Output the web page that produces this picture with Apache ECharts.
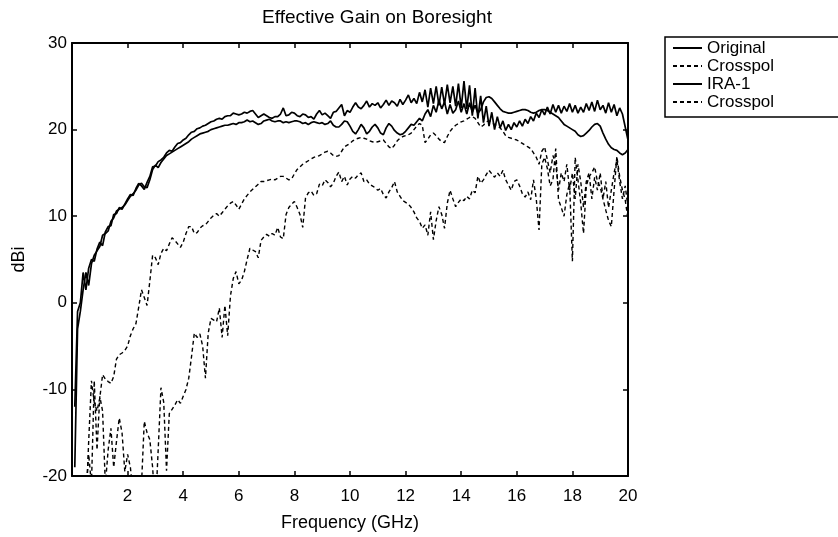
<!DOCTYPE html>
<html><head><meta charset="utf-8">
<script src="https://cdn.jsdelivr.net/npm/echarts@6/dist/echarts.min.js"></script>
<style>html,body{margin:0;padding:0;background:#fff}#c{width:838px;height:537px}</style>
</head><body><div id="c"></div>
<script>
// Frequency sampling grid (GHz): 0.1 .. 20.0 in 0.1 steps
const freq = Array.from({length: 200}, (_, i) => Math.round((i + 1)) / 10);

const xTicks = [2, 4, 6, 8, 10, 12, 14, 16, 18, 20];
const yTicks = [-20, -10, 0, 10, 20, 30];

// Original (solid)
const original = [
 -19, -3, -1, 1.5, 3.5, 2.0, 4.5, 5.5, 6.0, 6.5,
 7.8, 8.0, 8.3, 9.4, 9.8, 10.6, 10.8, 11.0, 11.3, 11.8,
 12.3, 12.6, 13.0, 13.6, 13.8, 13.4, 13.3, 14.2, 15.4, 15.9,
 15.6, 16.2, 16.6, 17.0, 17.2, 17.4, 17.6, 17.8, 18.0, 18.2,
 18.4, 18.6, 18.9, 19.1, 19.3, 19.5, 19.6, 19.7, 19.8, 20.0,
 20.1, 20.2, 20.3, 20.4, 20.5, 20.5, 20.6, 20.7, 20.6, 20.8,
 20.8, 20.9, 21.1, 20.9, 21.0, 20.8, 20.6, 20.7, 21.0, 21.1,
 21.2, 21.0, 20.9, 21.0, 21.0, 20.8, 20.9, 20.8, 20.9, 21.0,
 21.0, 20.9, 20.7, 20.8, 20.6, 20.8, 20.9, 20.8, 20.7, 20.8,
 20.6, 20.7, 21.0, 20.5, 20.3, 20.3, 20.6, 21.0, 20.9, 20.4,
 19.8, 19.5, 20.0, 20.6, 20.2, 19.5, 19.8, 20.3, 20.6, 20.2,
 19.6, 19.4, 20.2, 20.7, 20.4, 19.9, 19.6, 19.4, 19.5, 19.8,
 20.2, 20.6, 20.5, 20.9, 21.3, 21.0, 21.8, 22.3, 21.5, 22.8,
 22.0, 23.4, 22.4, 23.2, 21.8, 22.9, 21.9, 22.3, 23.3, 22.0,
 23.0, 21.8, 23.1, 22.0, 22.8, 21.9, 22.3, 23.2, 23.7, 23.8,
 23.6, 23.2, 22.8, 22.4, 22.1, 22.0, 21.9, 21.9, 22.0, 22.1,
 22.2, 22.3, 22.3, 22.2, 22.0, 21.9, 22.0, 22.2, 22.3, 22.3,
 22.2, 22.0, 21.8, 21.6, 21.4, 21.0, 20.6, 20.4, 20.2, 20.0,
 19.8, 19.4, 19.2, 19.3, 19.6, 19.9, 20.3, 20.6, 20.7, 20.4,
 19.6, 18.9, 18.3, 17.9, 17.7, 17.6, 17.3, 17.1, 17.3, 17.7
];

// Crosspol of Original (dashed, upper)
const crosspolOriginal = [
 -30, -30, -30, -30, -24, -16, -9, -11.5, -12.5, -11,
 -8.3, -8.8, -9.1, -9.3, -8.5, -6.5, -6.0, -5.8, -5.5, -5.0,
 -3.8, -3.0, -2.4, -0.5, 1.5, 0.6, -0.3, 2.5, 5.5, 5.2,
 4.4, 5.7, 6.3, 6.0, 6.8, 7.5, 7.2, 6.8, 6.4, 7.0,
 8.0, 8.8, 8.8, 8.0, 8.1, 8.6, 8.9, 9.0, 9.4, 9.8,
 10.1, 10.3, 10.0, 10.4, 10.8, 11.2, 11.5, 11.7, 11.3, 10.8,
 11.4, 12.0, 12.4, 12.8, 13.1, 13.4, 13.7, 14.0, 14.0, 14.1,
 14.2, 14.3, 14.2, 14.4, 14.6, 14.6, 14.4, 14.2, 14.3, 14.9,
 15.4, 15.7, 16.0, 16.2, 16.4, 16.6, 16.8, 16.9, 17.0, 17.2,
 17.4, 17.5, 17.3, 17.0, 16.9, 17.0, 17.5, 18.0, 18.2, 18.4,
 18.7, 18.9, 19.0, 19.1, 19.0, 18.9, 18.7, 18.6, 18.5, 18.6,
 18.7, 18.8, 18.4, 18.0, 17.8, 18.2, 18.7, 19.0, 19.2, 19.3,
 19.4, 19.6, 20.0, 20.4, 20.7, 20.5, 18.5, 18.9, 19.4, 19.6,
 19.3, 18.9, 18.6, 18.5, 19.2, 19.8, 20.2, 20.5, 20.7, 20.9,
 21.0, 21.2, 21.4, 21.5, 21.3, 20.8, 20.3, 20.5, 20.9, 21.0,
 20.8, 20.6, 20.4, 20.2, 19.8, 19.3, 19.1, 19.0, 18.9, 18.8,
 18.6, 18.4, 18.2, 18.0, 17.8, 17.3, 16.8, 16.0, 17.5, 18.0,
 16.5, 15.0, 17.0, 16.0, 13.0, 15.0, 14.0, 16.0, 13.0, 15.0,
 12.0, 16.0, 14.0, 11.0, 14.0, 15.0, 12.0, 14.5, 13.0, 15.0,
 12.0, 14.0, 11.0, 13.0, 15.0, 16.5, 14.0, 12.0, 13.5, 11.0
];

// IRA-1 (solid)
const ira1 = [
 -12, -1, 0, 3.5, 1.5, 4.0, 5.0, 4.8, 6.2, 7.0,
 6.6, 8.2, 8.8, 8.9, 10.2, 10.3, 11.0, 10.8, 11.4, 12.0,
 12.5, 12.4, 13.2, 13.8, 13.5, 13.1, 13.9, 14.6, 15.7, 15.8,
 16.3, 16.5, 16.8, 17.3, 17.6, 17.5, 18.0, 18.4, 18.5, 18.8,
 19.0, 19.4, 19.7, 19.8, 20.1, 20.2, 20.4, 20.5, 20.7, 20.9,
 21.0, 21.2, 21.3, 21.2, 21.5, 21.6, 21.6, 21.9, 21.8, 21.7,
 21.8, 22.0, 21.9, 22.1, 22.2, 21.8, 21.4, 21.6, 21.8, 21.6,
 21.4, 21.3, 21.5, 21.5, 21.8, 22.5, 21.6, 21.7, 22.0, 21.9,
 21.6, 21.5, 21.8, 21.7, 21.4, 21.5, 21.2, 21.8, 22.2, 21.7,
 21.9, 21.6, 21.3, 22.0, 22.1, 22.5, 22.9, 21.6, 22.2, 22.0,
 22.6, 23.1, 22.6, 22.4, 22.8, 23.3, 22.6, 23.0, 22.8, 23.1,
 22.5, 22.9, 23.4, 22.8, 23.3, 23.1, 22.7, 23.5, 22.9, 23.4,
 24.0, 23.1, 23.6, 23.0, 24.3, 23.2, 24.6, 22.6, 24.8, 23.0,
 25.0, 22.8, 24.9, 22.9, 25.2, 23.1, 25.0, 22.7, 25.3, 22.5,
 25.6, 22.4, 25.1, 21.6, 24.8, 21.3, 23.9, 20.8, 22.7, 20.4,
 22.0, 20.0, 21.5, 20.2, 21.0, 19.9, 20.6, 20.0, 20.8, 20.3,
 21.0, 20.4, 21.2, 20.7, 21.5, 21.0, 21.9, 21.4, 22.3, 21.7,
 22.6, 21.8, 22.9, 22.0, 22.8, 21.9, 22.7, 22.1, 23.0, 22.0,
 22.8, 21.9, 22.6, 22.0, 23.0, 22.2, 23.2, 22.1, 23.4, 22.3,
 22.8, 21.9, 23.1, 22.0, 22.9, 21.6, 22.5, 21.8, 20.3, 18.8
];

// Crosspol of IRA-1 (dashed, lower)
const crosspolIra1 = [
 -30, -30, -30, -30, -22, -17.5, -21, -9, -17, -10.8,
 -12.5, -21, -17, -14.5, -19, -16, -13.3, -15, -19.5, -17.5,
 -19, -22, -25, -25, -21, -13.7, -15, -15.8, -19, -24,
 -17, -9.8, -11.5, -19.4, -12.8, -12.3, -11.8, -11.2, -11.6, -10.8,
 -10, -8.7, -6.2, -3.5, -4, -3.6, -5, -8.7, -3.5, -1.8,
 -2, -2.2, -0.6, -4, -0.3, -3.8, 0.8, 2.8, 3.6, 2.2,
 2.6, 3.6, 5.0, 6.3, 6.1, 5.9, 5.2, 7.2, 7.6, 7.9,
 7.7, 8.0, 7.8, 8.7, 7.6, 7.4, 10.2, 11.0, 11.4, 11.7,
 11.0, 10.2, 8.7, 12.1, 12.7, 12.9, 12.4, 12.6, 13.7, 13.5,
 14.2, 13.9, 13.4, 13.8, 14.6, 15.1, 14.0, 14.6, 13.6, 14.3,
 14.6, 14.4, 14.8, 15.0, 14.0, 14.2, 13.7, 13.5, 13.3, 13.0,
 13.2, 12.5, 12.1, 12.8, 13.3, 14.0, 12.8, 12.3, 11.8, 11.6,
 11.4, 11.0, 10.5, 9.8, 9.4, 8.6, 9.0, 7.8, 10.5, 7.3,
 9.5, 11.1, 10.2, 8.6, 11.5, 13.0, 12.0, 11.1, 11.6, 12.0,
 11.8, 12.3, 12.0, 13.0, 12.7, 14.6, 13.8, 14.2, 14.8, 15.3,
 14.9, 14.5, 15.0, 14.6, 15.3, 14.2, 13.6, 13.0, 14.0, 14.2,
 13.5, 12.6, 12.2, 12.8, 11.9, 14.2, 12.0, 8.4, 16.0, 16.8,
 15.5, 13.5, 14.2, 17.8, 11.9, 11.0, 10.0, 12.5, 13.8, 4.8,
 16.8, 14.2, 11.5, 8.0, 13.5, 14.6, 15.0, 15.7, 14.0, 13.4,
 12.0, 10.7, 9.5, 8.8, 13.0, 16.9, 14.6, 13.0, 11.9, 9.6
];

const FONT = '"Liberation Sans", Arial, Helvetica, sans-serif';
const pairs = arr => freq.map((f, i) => [f, arr[i]]);

const chart = echarts.init(document.getElementById('c'), null, {renderer: 'canvas'});

const gridL = 72, gridR = 210, gridT = 43, gridB = 60;

function xAxisDef(pos, showLabel) {
  return {
    type: 'value', position: pos, min: 0, max: 20, interval: 2,
    axisLine: {show: true, onZero: false, lineStyle: {color: '#000', width: 2}},
    axisTick: {show: true, inside: true, length: 5, lineStyle: {color: '#000', width: 1.5}},
    axisLabel: {show: showLabel, color: '#000', fontFamily: FONT, fontSize: 17, margin: 12,
      formatter: v => (xTicks.indexOf(v) >= 0 ? String(v) : '')},
    splitLine: {show: false}
  };
}
function yAxisDef(pos, showLabel) {
  return {
    type: 'value', position: pos, min: -20, max: 30, interval: 10,
    axisLine: {show: true, onZero: false, lineStyle: {color: '#000', width: 2}},
    axisTick: {show: true, inside: true, length: 5, lineStyle: {color: '#000', width: 1.5}},
    axisLabel: {show: showLabel, color: '#000', fontFamily: FONT, fontSize: 17, margin: 5,
      formatter: v => (yTicks.indexOf(v) >= 0 ? String(v) : '')},
    splitLine: {show: false}
  };
}

const xb = xAxisDef('bottom', true);
xb.name = 'Frequency (GHz)';
xb.nameLocation = 'middle';
xb.nameGap = 38;
xb.nameTextStyle = {color: '#000', fontFamily: FONT, fontSize: 18};
const yl = yAxisDef('left', true);
yl.name = 'dBi';
yl.nameLocation = 'middle';
yl.nameGap = 44;
yl.nameRotate = 90;
yl.nameTextStyle = {color: '#000', fontFamily: FONT, fontSize: 18};

function lineSeries(name, arr, dashed) {
  return {
    name: name, type: 'line', data: pairs(arr), xAxisIndex: 0, yAxisIndex: 0,
    symbol: 'none', showSymbol: false, clip: true, smooth: false,
    lineStyle: {color: '#000', width: dashed ? 1.4 : 1.7, type: dashed ? [4, 3] : 'solid'},
    itemStyle: {color: '#000'},
    emphasis: {disabled: true}
  };
}

chart.setOption({
  animation: false,
  backgroundColor: '#fff',
  grid: {left: gridL, right: gridR, top: gridT, bottom: gridB, containLabel: false},
  graphic: [{
    type: 'text', x: 377, y: 18,
    style: {text: 'Effective Gain on Boresight', fill: '#000', font: '19px ' + FONT,
      textAlign: 'center', textVerticalAlign: 'middle'}
  }],
  legend: {
    orient: 'vertical', left: 665, top: 37,
    data: ['Original', 'Crosspol', 'IRA-1', 'Crosspol '],
    itemWidth: 29, itemHeight: 2, itemGap: 0,
    padding: [2, 60, 6, 7],
    itemStyle: {opacity: 0},
    borderColor: '#000', borderWidth: 1.5, backgroundColor: '#fff',
    textStyle: {color: '#000', fontFamily: FONT, fontSize: 17, lineHeight: 18, height: 18},
    selectedMode: false
  },
  xAxis: [xb, xAxisDef('top', false)],
  yAxis: [yl, yAxisDef('right', false)],
  series: [
    lineSeries('Original', original, false),
    lineSeries('Crosspol', crosspolOriginal, true),
    lineSeries('IRA-1', ira1, false),
    lineSeries('Crosspol ', crosspolIra1, true)
  ]
});
</script></body></html>
